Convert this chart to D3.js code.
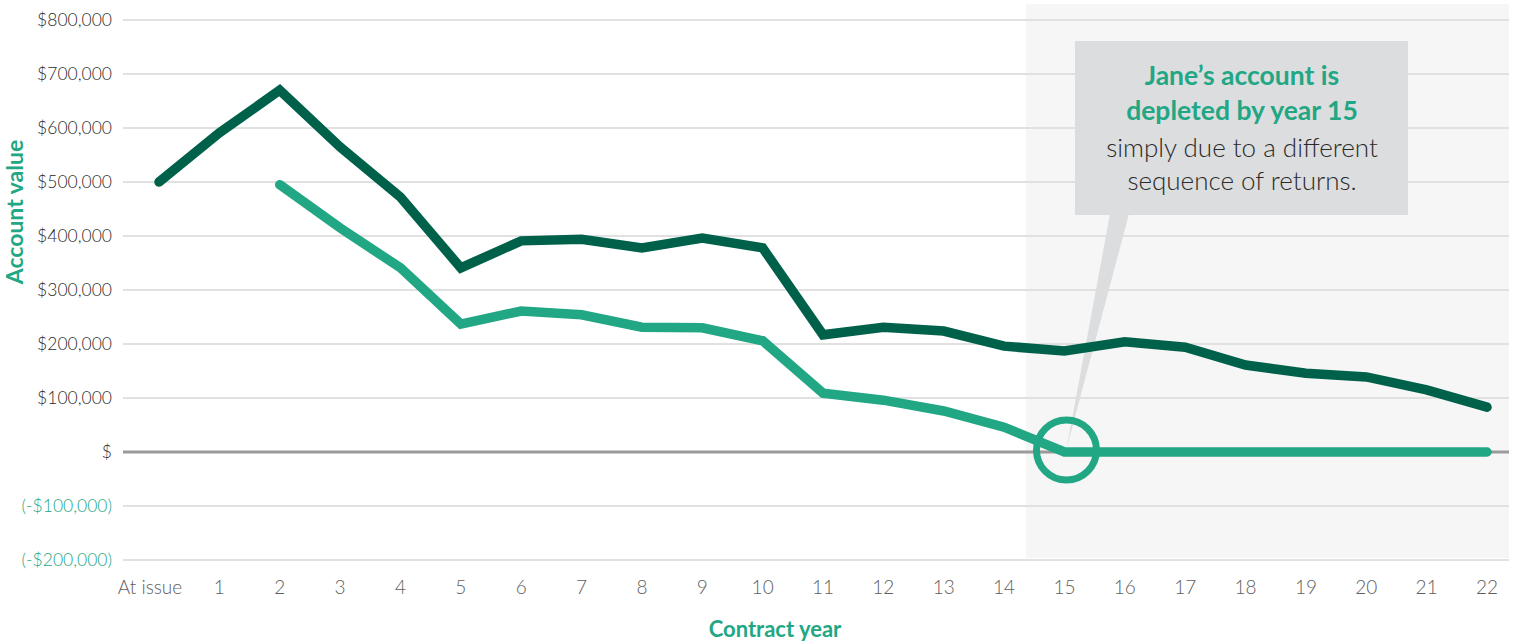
<!DOCTYPE html>
<html><head><meta charset="utf-8">
<script src="https://cdn.jsdelivr.net/npm/d3@7"></script>
<style>body{margin:0;background:#fff}svg{display:block;font-family:Lato,"Open Sans",sans-serif}</style>
</head><body><svg id="c" width="1523" height="641"></svg>
<script>
const years = ["At issue","1","2","3","4","5","6","7","8","9","10","11","12","13","14","15","16","17","18","19","20","21","22"];
const johnValues = [500000,591000,670000,565000,472000,341000,391000,394000,378000,396000,378000,217000,231000,224000,196000,187000,204000,194000,161000,146000,139000,115000,83000];
const janeValues = [null,null,495000,415000,341000,237000,261000,254000,231000,230000,206000,109000,96000,76000,46000,0,0,0,0,0,0,0,0];
const yTicks = [800000,700000,600000,500000,400000,300000,200000,100000,0,-100000,-200000];
const yTickLabels = ["$800,000","$700,000","$600,000","$500,000","$400,000","$300,000","$200,000","$100,000","$","(-$100,000)","(-$200,000)"];
const calloutTitle = ["Jane\u2019s account is","depleted by year 15"];
const calloutBody = ["simply due to a different","sequence of returns."];
const highlightFrom = "15";

const DARK="#00614b", LIGHT="#22a784";
const svg = d3.select("#c");
const x = d3.scalePoint().domain(years).range([159,1487]);
const y = d3.scaleLinear().domain([-200000,800000]).range([560,20]);
const gx0=123, gx1=1509;
const step = x.step();
const shadeX = x(highlightFrom) - step*0.64;

// shaded region
svg.append("rect").attr("x", shadeX).attr("y",4)
  .attr("width", gx1 - shadeX).attr("height",554).attr("fill","#f6f6f6");

// gridlines
svg.append("g").selectAll("line").data(yTicks.filter(d=>d!==0)).join("line")
  .attr("x1",gx0).attr("x2",gx1).attr("y1",d=>y(d)).attr("y2",d=>y(d))
  .attr("stroke","#e1e1e1").attr("stroke-width",2);
svg.append("line").attr("x1",gx0).attr("x2",gx1).attr("y1",y(0)).attr("y2",y(0))
  .attr("stroke","#9a9a9a").attr("stroke-width",3);

// y labels
svg.append("g").selectAll("text").data(yTicks).join("text")
  .attr("x",112).attr("y",d=>y(d)).attr("dy","0.35em").attr("text-anchor","end")
  .attr("font-size",17.5).attr("font-weight",300).attr("fill",d=>d<0?LIGHT:"#2a2a2a")
  .text((d,i)=>yTickLabels[i]);

// x labels
svg.append("g").selectAll("text").data(years).join("text")
  .attr("x",d=>d==="At issue"?x(d)-9:x(d)).attr("y",594).attr("text-anchor","middle")
  .attr("font-size",19).attr("font-weight",300).attr("fill","#5e5e5e").text(d=>d);

// axis titles
svg.append("text").attr("transform","translate(23,212) rotate(-90)").attr("text-anchor","middle")
  .attr("font-size",23).attr("font-weight","bold").attr("fill",LIGHT).text("Account value");
svg.append("text").attr("x",775).attr("y",637).attr("text-anchor","middle")
  .attr("font-size",22).attr("font-weight","bold").attr("fill",LIGHT).text("Contract year");

// callout tail
const tipX = x(highlightFrom)+2, tipY = y(0)-3;
svg.append("path").attr("d",`M1110,214 L1129,214 L${tipX},${tipY} Z`).attr("fill","#dcdddf");

// lines
const line = d3.line().defined(d=>d.v!==null).x(d=>x(d.k)).y(d=>y(d.v));
svg.append("path").datum(years.map((k,i)=>({k,v:janeValues[i]})))
  .attr("d",line).attr("fill","none").attr("stroke",LIGHT).attr("stroke-width",9.5)
  .attr("stroke-linecap","round").attr("stroke-linejoin","miter");
svg.append("path").datum(years.map((k,i)=>({k,v:johnValues[i]})))
  .attr("d",line).attr("fill","none").attr("stroke",DARK).attr("stroke-width",9.5)
  .attr("stroke-linecap","round").attr("stroke-linejoin","miter");

// circle
svg.append("circle").attr("cx",x(highlightFrom)+2).attr("cy",y(0)-2).attr("r",30)
  .attr("fill","none").attr("stroke",LIGHT).attr("stroke-width",7);

// callout box
svg.append("rect").attr("x",1075).attr("y",41).attr("width",333).attr("height",174).attr("fill","#dcdddf");
const cx = 1242;
svg.append("g").selectAll("text").data(calloutTitle).join("text")
  .attr("x",cx).attr("y",(d,i)=>85+i*35).attr("text-anchor","middle")
  .attr("font-size",26.5).attr("font-weight","bold").attr("fill",LIGHT).text(d=>d);
svg.append("g").selectAll("text").data(calloutBody).join("text")
  .attr("x",cx).attr("y",(d,i)=>157+i*33).attr("text-anchor","middle")
  .attr("font-size",26).attr("font-weight",300).attr("fill","#2a2a2a").text(d=>d);
</script></body></html>
